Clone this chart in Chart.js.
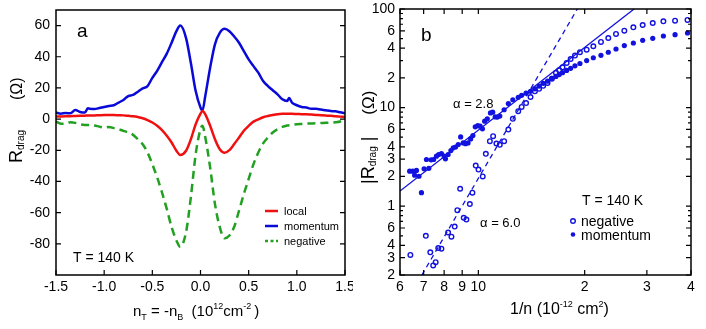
<!DOCTYPE html>
<html>
<head>
<meta charset="utf-8">
<script src="https://cdn.jsdelivr.net/npm/chart.js@4.4.1/dist/chart.umd.min.js"></script>
<style>
  body { margin: 0; background: #fff; }
  #wrap { position: relative; width: 706px; height: 329px; }
  #panelA { position: absolute; left: 0; top: 0; }
  #panelB { position: absolute; left: 353px; top: 0; }
</style>
</head>
<body>
<div id="wrap">
  <canvas id="panelA" width="353" height="329"></canvas>
  <canvas id="panelB" width="353" height="329"></canvas>
</div>
<script>
// Panel a: drag resistance vs density
var aX = [-1.5, -1.45, -1.4, -1.35, -1.3, -1.25, -1.2, -1.17, -1.15, -1.1, -1.05, -1.0, -0.95, -0.9, -0.85, -0.8,
  -0.75, -0.7, -0.65, -0.6, -0.55, -0.5, -0.45, -0.4, -0.35, -0.3, -0.25, -0.21, -0.15, -0.1, -0.05, 0.0, 0.02,
  0.05, 0.1, 0.15, 0.2, 0.25, 0.3, 0.35, 0.4, 0.45, 0.5, 0.55, 0.6, 0.65, 0.7, 0.75, 0.8, 0.85, 0.9, 0.92,
  0.95, 1.0, 1.05, 1.1, 1.15, 1.2, 1.25, 1.3, 1.35, 1.4, 1.45, 1.5];

var aLocal = [1.6, 1.7, 1.8, 1.9, 2.0, 2.1, 2.2, 2.3, 2.3, 2.4, 2.5, 2.6, 2.6, 2.6, 2.5, 2.4,
  2.1, 1.8, 1.3, 0.6, -0.6, -2.2, -4.3, -7.1, -10.7, -15, -20.3, -23, -20.3, -12.9, -3.3, 3.5, 5.2,
  3.1, -4.3, -12.9, -19.3, -21.6, -19.9, -16, -11.8, -7.5, -4.3, -1.6, -0.1, 1.2, 2.0, 2.6, 3.1, 3.4, 3.5, 3.5,
  3.4, 3.3, 3.2, 3.1, 2.9, 2.7, 2.5, 2.3, 2.1, 1.8, 1.6, 1.4];

var aMomentum = [4.2, 3.5, 3.9, 3.7, 5.9, 4.6, 4.2, 6.9, 6.7, 6.5, 7.1, 7.8, 8.4, 8.9, 10.6, 12.3,
  14.8, 15.5, 17.6, 19.7, 21.2, 26.5, 31, 36.5, 42, 49, 56.4, 60, 52, 36, 18, 7.4, 5.5,
  15, 33, 48, 55.3, 57.9, 56.4, 53, 49, 43.6, 38.3, 34, 29.8, 24.4, 21.2, 18.5, 15.9, 12.7, 11.6, 13.5,
  10.6, 8.9, 7.8, 7.4, 6.7, 6.7, 6.1, 5.7, 5.2, 5.0, 4.4, 3.8];

var aNegative = [-1.6, -2.9, -2.9, -2.0, -2.4, -3.3, -3.7, -3.7, -3.7, -4.1, -4.8, -5.4, -5.0, -5.8, -6.5, -7.5,
  -8.6, -10.1, -12.9, -16.1, -21.4, -28.9, -37.4, -47, -57.6, -69.3, -77.8, -82, -72.5, -50, -22.5, -6.5, -4.3,
  -11.8, -31, -54.4, -69.3, -76.5, -74.7, -69, -58.7, -48, -38.4, -28.9, -21.4, -15.6, -11.8, -8.6, -6.5, -5.0, -4.1, -3.9,
  -3.7, -3.3, -3.1, -2.9, -2.8, -2.7, -2.5, -2.4, -2.2, -2.0, -1.5, -0.1];

var aSeriesNames = ['local', 'momentum', 'negative'];

var aTicksX = [-1.5, -1.0, -0.5, 0.0, 0.5, 1.0, 1.5];

var aTicksY = [-80, -60, -40, -20, 0, 20, 40, 60];

// Panel b: |Rdrag| vs 1/n, log-log
var bNegX = [0.642, 0.710, 0.731, 0.745, 0.757, 0.770, 0.786, 0.821, 0.839, 0.857, 0.872, 0.888, 0.909, 0.925,
  0.946, 0.962, 0.983, 1.001, 1.029, 1.050, 1.078, 1.101, 1.125, 1.150, 1.183, 1.216, 1.252, 1.297, 1.326, 1.365,
  1.405, 1.446, 1.486, 1.526, 1.570, 1.615, 1.658, 1.694, 1.731, 1.778, 1.825, 1.877, 1.939, 2.026, 2.116, 2.224,
  2.333, 2.453, 2.59, 2.747, 2.919, 3.117, 3.341, 3.605, 3.91];

var bNegY = [0.32, 0.50, 0.34, 0.25, 0.27, 0.375, 0.37, 0.54, 0.49, 0.62, 0.91, 1.50, 0.76, 0.73,
  1.05, 1.37, 2.58, 2.35, 2.0, 3.39, 4.56, 5.12, 4.32, 4.19, 4.56, 5.98, 7.68, 9.18, 10.15, 11.1,
  12.8, 14.6, 15.5, 16.6, 17.8, 19.6, 22.5, 23.9, 25.6, 28.4, 31.1, 33.7, 36.4, 38.7, 41.9, 46.3,
  50.8, 55.8, 60.3, 65.2, 68.8, 72.1, 75.0, 76.2, 77.4];

var bMomX = [0.639, 0.652, 0.660, 0.668, 0.679, 0.690, 0.702, 0.713, 0.724, 0.735, 0.747, 0.761, 0.772, 0.786,
  0.800, 0.807, 0.821, 0.836, 0.849, 0.862, 0.877, 0.891, 0.906, 0.920, 0.935, 0.951, 0.965, 0.980, 0.996, 1.012,
  1.027, 1.042, 1.060, 1.082, 1.098, 1.116, 1.132, 1.150, 1.183, 1.216, 1.252, 1.297, 1.326, 1.365, 1.405, 1.446,
  1.486, 1.526, 1.570, 1.615, 1.658, 1.694, 1.731, 1.778, 1.825, 1.877, 1.939, 2.026, 2.116, 2.224, 2.333, 2.453,
  2.59, 2.747, 2.919, 3.117, 3.341, 3.605, 3.91];

var bMomY = [2.26, 2.26, 2.06, 2.30, 2.01, 1.37, 2.39, 2.97, 2.42, 2.95, 2.97, 3.21, 3.34, 3.42,
  3.21, 3.02, 3.34, 3.66, 3.90, 3.98, 4.22, 5.04, 4.38, 4.30, 4.38, 4.81, 5.20, 6.37, 6.55, 6.47,
  6.08, 7.27, 7.68, 8.83, 8.97, 8.04, 8.0, 8.2, 9.5, 11.0, 12.0, 12.7, 13.3, 14.0, 14.6, 15.5,
  16.5, 17.6, 18.5, 19.8, 20.7, 21.6, 22.6, 23.8, 25.0, 26.5, 28.0, 30.0, 32.0, 33.9, 36.4, 39.3,
  42.5, 45.2, 48.1, 50.4, 53.2, 54.9, 57.1];

// power-law guide lines (alpha = 2.8 solid, alpha = 6.0 dashed)
var fit28X = [0.6, 2.76];

var fit28Y = [1.42, 100];

var fit60X = [0.692, 1.906];

var fit60Y = [0.2, 100];

var bSeriesNames = ['negative', 'momentum'];

var bTicksX = [0.6, 0.7, 0.8, 0.9, 1, 2, 3, 4];

var bTickLabelsX = ['6', '7', '8', '9', '10', '2', '3', '4'];

var bTicksY = [0.2, 0.3, 0.4, 0.6, 1, 2, 3, 4, 6, 10, 20, 40, 60, 100];

var bTickLabelsY = ['2', '3', '4', '6', '1', '2', '3', '4', '6', '10', '2', '4', '6', '100'];

var bMinorY = [0.5, 0.7, 0.8, 0.9, 5, 7, 8, 9, 30, 50, 70, 80, 90];

var FONT = '"Liberation Sans", Arial, sans-serif';

var RED = '#f01010';

var BLUE = '#0a0ad8';

var GREEN = '#22a022';

var MARK = '#1212e0';

Chart.defaults.font.family = FONT;

Chart.defaults.color = '#000';

function toPoints(xs, ys)
{
  return xs.map(function (x, i) {
    return { x: x, y: ys[i] };
  });
}

// Draw a run of text pieces with sub/superscripts, optionally rotated
function drawRich(ctx, x, y, parts, vertical)
{
  ctx.save();

  ctx.translate(x, y);

  if (vertical)
  {
    ctx.rotate(-Math.PI / 2);
  }

  ctx.textAlign = 'left';

  ctx.textBaseline = 'alphabetic';

  var pos = 0;

  parts.forEach(function (p) {
    pos += p.gap || 0;

    ctx.font = p.size + 'px ' + FONT;

    ctx.fillText(p.text, pos, p.dy || 0);

    pos += ctx.measureText(p.text).width;
  });

  ctx.restore();
}

// Box frame plus inward tick marks
function frameTicks(cfg)
{
  return {
    id: 'frameTicks',

    afterDatasetsDraw: function (chart) {

      var ctx = chart.ctx;

      var area = chart.chartArea;

      var xs = chart.scales.x;

      var ys = chart.scales.y;

      ctx.save();

      ctx.strokeStyle = '#000';

      ctx.lineWidth = 1.2;

      ctx.beginPath();

      xs.ticks.forEach(function (t) {
        var px = xs.getPixelForValue(t.value);

        ctx.moveTo(px, area.bottom);
        ctx.lineTo(px, area.bottom - cfg.major);

        if (cfg.top)
        {
          ctx.moveTo(px, area.top);
          ctx.lineTo(px, area.top + cfg.major);
        }
      });

      function yTick(v, len)
      {
        var py = ys.getPixelForValue(v);

        ctx.moveTo(area.left, py);
        ctx.lineTo(area.left + len, py);

        ctx.moveTo(area.right, py);
        ctx.lineTo(area.right - len, py);
      }

      ys.ticks.forEach(function (t) {
        yTick(t.value, cfg.major);
      });

      (cfg.minorY || []).forEach(function (v) {
        yTick(v, cfg.minor);
      });

      ctx.stroke();

      ctx.lineWidth = 1.5;

      ctx.strokeRect(area.left, area.top, area.right - area.left, area.bottom - area.top);

      ctx.restore();
    }
  };
}

// Labels, legend and axis titles for panel a
var textA = {
  id: 'textA',

  afterDraw: function (chart) {

    var ctx = chart.ctx;

    ctx.save();

    ctx.fillStyle = '#000';

    ctx.textBaseline = 'alphabetic';

    ctx.font = '19px ' + FONT;

    ctx.fillText('a', 77, 37);

    ctx.font = '14px ' + FONT;

    ctx.fillText('T = 140 K', 73, 262);

    var colors = [RED, BLUE, GREEN];

    var dashes = [[], [], [3, 2.5]];

    ctx.font = '11px ' + FONT;

    aSeriesNames.forEach(function (name, i) {
      var y = 211 + i * 15;

      ctx.strokeStyle = colors[i];

      ctx.lineWidth = 2.5;

      ctx.setLineDash(dashes[i]);

      ctx.beginPath();
      ctx.moveTo(265, y);
      ctx.lineTo(278, y);
      ctx.stroke();

      ctx.fillText(name, 284, y + 4);
    });

    ctx.setLineDash([]);

    drawRich(ctx, 22, 163, [
      { text: 'R', size: 18 },
      { text: 'drag', size: 10, dy: 2 },
      { text: '(\u03A9)', size: 16, gap: 30 }
    ], true);

    drawRich(ctx, 133, 316, [
      { text: 'n', size: 15 },
      { text: 'T', size: 9, dy: 4 },
      { text: ' = -n', size: 15 },
      { text: 'B', size: 9, dy: 4 },
      { text: '  (10', size: 15 },
      { text: '12', size: 9, dy: -7 },
      { text: 'cm', size: 15 },
      { text: '-2', size: 9, dy: -7 },
      { text: ')', size: 15, gap: 3 }
    ], false);

    ctx.restore();
  }
};

// Labels, legend and axis titles for panel b
var textB = {
  id: 'textB',

  afterDraw: function (chart) {

    var ctx = chart.ctx;

    ctx.save();

    ctx.fillStyle = '#000';

    ctx.textBaseline = 'alphabetic';

    ctx.font = '19px ' + FONT;

    ctx.fillText('b', 68, 41);

    ctx.font = '13px ' + FONT;

    ctx.fillText('\u03B1 = 2.8', 100, 108);

    ctx.fillText('\u03B1 = 6.0', 127, 227);

    ctx.font = '14px ' + FONT;

    ctx.fillText('T = 140 K', 229, 205);

    bSeriesNames.forEach(function (name, i) {
      var y = 221 + i * 13.5;

      ctx.beginPath();

      ctx.arc(220, y, 2.3, 0, Math.PI * 2);

      if (i === 0)
      {
        ctx.strokeStyle = MARK;
        ctx.lineWidth = 1.4;
        ctx.stroke();
      }
      else
      {
        ctx.fillStyle = MARK;
        ctx.fill();
      }

      ctx.fillStyle = '#000';

      ctx.fillText(name, 228, y + 5);
    });

    drawRich(ctx, 21, 184, [
      { text: '|R', size: 18 },
      { text: 'drag', size: 10, dy: 2 },
      { text: '|', size: 18, gap: 5 },
      { text: '(\u03A9)', size: 17, gap: 22 }
    ], true);

    drawRich(ctx, 157, 314, [
      { text: '1/n (10', size: 16 },
      { text: '-12', size: 9, dy: -7 },
      { text: ' cm', size: 16 },
      { text: '2', size: 9, dy: -7 },
      { text: ')', size: 16 }
    ], false);

    ctx.restore();
  }
};

// Create panel a chart
var chartA = new Chart(document.getElementById('panelA'), {

  type: 'line',

  data: {
    datasets: [
      {
        label: aSeriesNames[0],

        data: toPoints(aX, aLocal),

        borderColor: RED,

        borderWidth: 2.5
      },
      {
        label: aSeriesNames[1],

        data: toPoints(aX, aMomentum),

        borderColor: BLUE,

        borderWidth: 2.5
      },
      {
        label: aSeriesNames[2],

        data: toPoints(aX, aNegative),

        borderColor: GREEN,

        borderWidth: 2.5,

        borderDash: [8, 5]
      }
    ]
  },

  options: {
    responsive: false,

    animation: false,

    events: [],

    devicePixelRatio: 1,

    layout: { padding: { left: 0, top: 10, right: 8, bottom: 0 } },

    elements: {
      point: { radius: 0 },

      line: { cubicInterpolationMode: 'monotone', fill: false }
    },

    plugins: {
      legend: { display: false },

      tooltip: { enabled: false }
    },

    scales: {
      x: {
        type: 'linear',

        min: -1.5,

        max: 1.5,

        afterBuildTicks: function (axis) {
          axis.ticks = aTicksX.map(function (v) { return { value: v }; });
        },

        afterFit: function (axis) {
          axis.height = 54;
          axis.paddingLeft = 0;
          axis.paddingRight = 0;
        },

        ticks: {
          autoSkip: false,

          maxRotation: 0,

          padding: 4,

          color: '#000',

          font: { size: 14 },

          callback: function (value) {
            return Number(value).toFixed(1);
          }
        },

        grid: { display: false, drawTicks: false },

        border: { display: false }
      },

      y: {
        min: -100,

        max: 70,

        afterBuildTicks: function (axis) {
          axis.ticks = aTicksY.map(function (v) { return { value: v }; });
        },

        afterFit: function (axis) {
          axis.width = 56;
          axis.paddingTop = 0;
          axis.paddingBottom = 0;
        },

        ticks: {
          autoSkip: false,

          padding: 6,

          color: '#000',

          font: { size: 14 },

          callback: function (value) {
            return String(value);
          }
        },

        grid: { display: false, drawTicks: false },

        border: { display: false }
      }
    }
  },

  plugins: [frameTicks({ major: 5, minor: 3, top: false }), textA]
});

// Create panel b chart
var chartB = new Chart(document.getElementById('panelB'), {

  type: 'scatter',

  data: {
    datasets: [
      {
        label: bSeriesNames[0],

        data: toPoints(bNegX, bNegY),

        pointStyle: 'circle',

        pointRadius: 2.3,

        borderWidth: 1.4,

        borderColor: MARK,

        backgroundColor: 'rgba(255,255,255,0)'
      },
      {
        label: bSeriesNames[1],

        data: toPoints(bMomX, bMomY),

        pointStyle: 'circle',

        pointRadius: 2.6,

        borderWidth: 0,

        borderColor: MARK,

        backgroundColor: MARK
      },
      {
        label: 'alpha 2.8',

        data: toPoints(fit28X, fit28Y),

        showLine: true,

        pointRadius: 0,

        borderColor: MARK,

        borderWidth: 1.3
      },
      {
        label: 'alpha 6.0',

        data: toPoints(fit60X, fit60Y),

        showLine: true,

        pointRadius: 0,

        borderColor: MARK,

        borderWidth: 1.3,

        borderDash: [5, 4]
      }
    ]
  },

  options: {
    responsive: false,

    animation: false,

    events: [],

    devicePixelRatio: 1,

    layout: { padding: { left: 0, top: 9, right: 15, bottom: 0 } },

    plugins: {
      legend: { display: false },

      tooltip: { enabled: false }
    },

    scales: {
      x: {
        type: 'logarithmic',

        min: 0.6,

        max: 4,

        afterBuildTicks: function (axis) {
          axis.ticks = bTicksX.map(function (v) { return { value: v }; });
        },

        afterFit: function (axis) {
          axis.height = 54;
          axis.paddingLeft = 0;
          axis.paddingRight = 0;
        },

        ticks: {
          autoSkip: false,

          maxRotation: 0,

          padding: 4,

          color: '#000',

          font: { size: 14 },

          callback: function (value, index) {
            return bTickLabelsX[index];
          }
        },

        grid: { display: false, drawTicks: false },

        border: { display: false }
      },

      y: {
        type: 'logarithmic',

        min: 0.2,

        max: 100,

        afterBuildTicks: function (axis) {
          axis.ticks = bTicksY.map(function (v) { return { value: v }; });
        },

        afterFit: function (axis) {
          axis.width = 47;
          axis.paddingTop = 0;
          axis.paddingBottom = 0;
        },

        ticks: {
          autoSkip: false,

          padding: 5,

          color: '#000',

          font: { size: 14 },

          callback: function (value, index) {
            return bTickLabelsY[index];
          }
        },

        grid: { display: false, drawTicks: false },

        border: { display: false }
      }
    }
  },

  plugins: [frameTicks({ major: 5, minor: 3, top: true, minorY: bMinorY }), textB]
});
</script>
</body>
</html>
